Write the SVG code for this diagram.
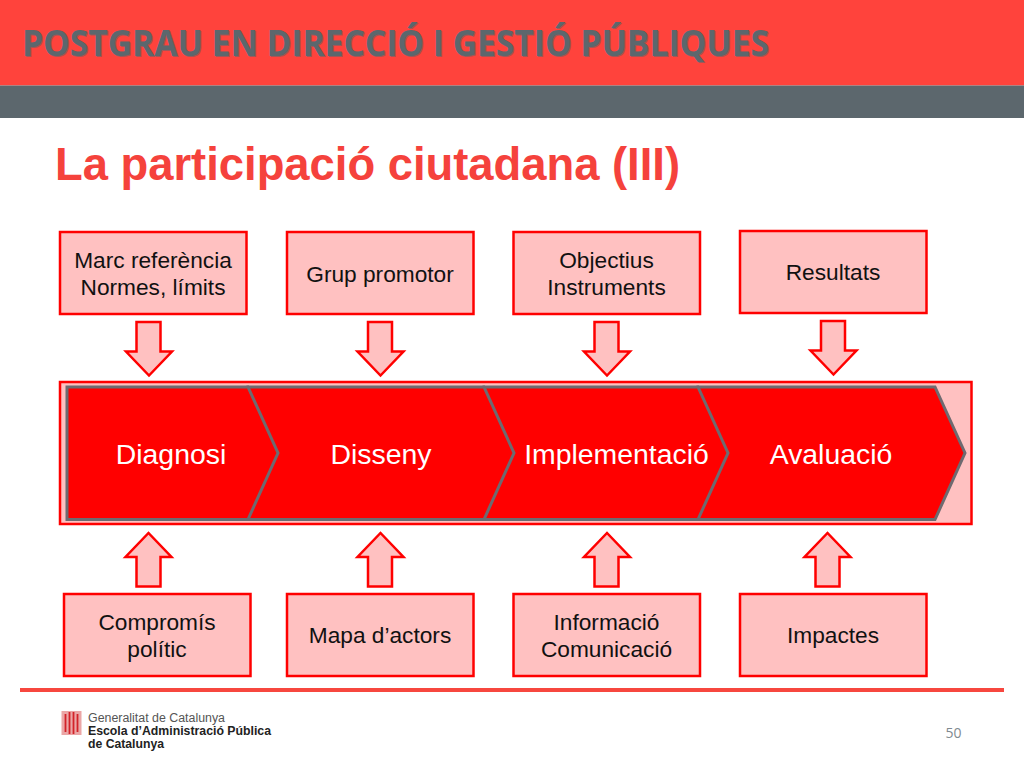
<svg xmlns="http://www.w3.org/2000/svg" width="1024" height="768" viewBox="0 0 1024 768">
<style>
.box{fill:#ffc1c1;stroke:#f00;stroke-width:2.500}
.arr{fill:#ffc1c1;stroke:#f00;stroke-width:2.500;stroke-linejoin:miter}
.chev{fill:#f00;stroke:#6e6a70;stroke-width:3;stroke-linejoin:miter}
.t{font-family:"Liberation Sans",Arial,sans-serif;font-size:22.700px;fill:#111;text-anchor:middle}
.c{font-family:"Liberation Sans",Arial,sans-serif;font-size:28.400px;fill:#fff;text-anchor:middle}
.hd{font-family:"Open Sans",sans-serif;font-weight:700;font-size:35px}
</style>
<rect width="1024" height="768" fill="#fff"/>
<g id="header">
<rect x="0" y="0" width="1024" height="85.500" fill="#ff433c"/>
<rect x="0" y="85.500" width="1024" height="32.500" fill="#5c676d"/>
<text class="hd" x="23" y="56.500" fill="#5c676d" opacity="0.55" textLength="747" lengthAdjust="spacingAndGlyphs">POSTGRAU EN DIRECCIÓ I GESTIÓ PÚBLIQUES</text>
<text class="hd" x="22" y="56" fill="#5c676d" textLength="747" lengthAdjust="spacingAndGlyphs">POSTGRAU EN DIRECCIÓ I GESTIÓ PÚBLIQUES</text>
</g>
<text id="title" x="55" y="179.500" font-family="Liberation Sans,Arial,sans-serif" font-weight="700" font-size="46" fill="#f5423c" textLength="625" lengthAdjust="spacingAndGlyphs">La participació ciutadana (III)</text>
<g id="process">
<rect class="box" x="60" y="382" width="911.500" height="142"/>
<path class="chev" d="M698 387H935L965 453L935 519.500H698Z"/>
<path class="chev" d="M484 387H698L728 453L698 519.500H484Z"/>
<path class="chev" d="M248 387H484L514 453L484 519.500H248Z"/>
<path class="chev" d="M67 387H248L278 453L248 519.500H67Z"/>
<text class="c" x="171" y="464">Diagnosi</text>
<text class="c" x="381" y="464">Disseny</text>
<text class="c" x="616.500" y="464">Implementació</text>
<text class="c" x="831" y="464">Avaluació</text>
</g>
<g id="connectors">
<path class="arr" d="M136.500 322H160.500V351.500H172L149 375.500L126 351.500H136.500Z"/>
<path class="arr" d="M368 322H392V351.500H403.500L380.500 375.500L357.500 351.500H368Z"/>
<path class="arr" d="M594.500 322H618.500V351.500H630L607 375.500L584 351.500H594.500Z"/>
<path class="arr" d="M821 321H845V350.500H856.500L833.500 374.500L810.500 350.500H821Z"/>
<path class="arr" d="M136.500 586.500H160.500V557H171.500L148.500 533L125.500 557H136.500Z"/>
<path class="arr" d="M368 586.500H392V557H403.500L380.500 533L357.500 557H368Z"/>
<path class="arr" d="M594.500 586.500H618.500V557H630L607 533L584 557H594.500Z"/>
<path class="arr" d="M815.500 586.500H839.500V557H850.500L827.500 533L804.500 557H815.500Z"/>
</g>
<g id="n1"><rect class="box" x="60" y="232" width="186.500" height="82"/><text class="t" x="153" y="268">Marc referència</text><text class="t" x="153" y="295">Normes, límits</text></g>
<g id="n2"><rect class="box" x="287" y="232" width="186.500" height="82"/><text class="t" x="380" y="282">Grup promotor</text></g>
<g id="n3"><rect class="box" x="513.500" y="232" width="186.500" height="82"/><text class="t" x="606.500" y="268">Objectius</text><text class="t" x="606.500" y="295">Instruments</text></g>
<g id="n4"><rect class="box" x="740" y="231" width="186.500" height="82"/><text class="t" x="833" y="280">Resultats</text></g>
<g id="n5"><rect class="box" x="64" y="594" width="186.500" height="82"/><text class="t" x="157" y="630">Compromís</text><text class="t" x="157" y="657">polític</text></g>
<g id="n6"><rect class="box" x="287" y="594" width="186.500" height="82"/><text class="t" x="380" y="643">Mapa d’actors</text></g>
<g id="n7"><rect class="box" x="513.500" y="594" width="186.500" height="82"/><text class="t" x="606.500" y="630">Informació</text><text class="t" x="606.500" y="657">Comunicació</text></g>
<g id="n8"><rect class="box" x="740" y="594" width="186.500" height="82"/><text class="t" x="833" y="643">Impactes</text></g>
<g id="footer">
<rect x="20" y="688" width="984" height="4" fill="#f7473f"/>
<rect x="61.500" y="711" width="20" height="24" fill="#eba6a6"/>
<path d="M65.500 714V732M69.500 712V734M73.500 712V734M77.500 714V732" stroke="#d2232a" stroke-width="1.800" fill="none"/>
<g font-family="Liberation Sans,Arial,sans-serif" font-size="12">
<text x="88" y="722" fill="#555" textLength="137" lengthAdjust="spacingAndGlyphs">Generalitat de Catalunya</text>
<text x="88" y="735" font-weight="700" fill="#222" textLength="183" lengthAdjust="spacingAndGlyphs">Escola d’Administració Pública</text>
<text x="88" y="748" font-weight="700" fill="#222" textLength="76" lengthAdjust="spacingAndGlyphs">de Catalunya</text>
</g>
<text x="953.500" y="738" font-family="Open Sans,sans-serif" font-size="14" fill="#7f8a90" text-anchor="middle">50</text>
</g>
</svg>
